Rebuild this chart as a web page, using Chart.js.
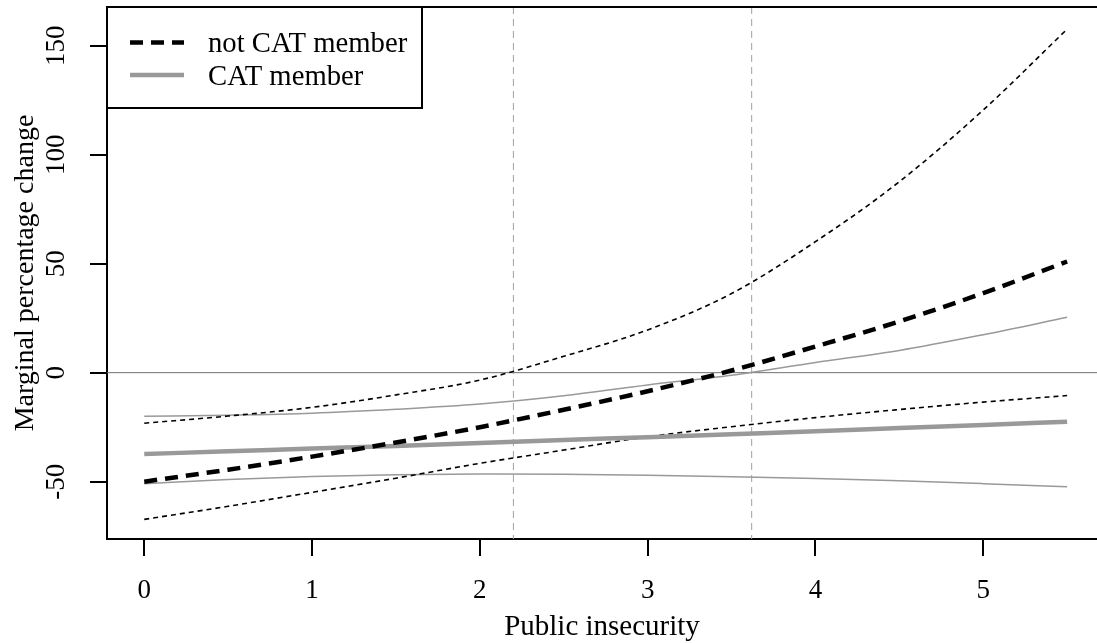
<!DOCTYPE html>
<html>
<head>
<meta charset="utf-8">
<script src="https://cdn.jsdelivr.net/npm/chart.js@4.4.1/dist/chart.umd.min.js"></script>
<style>
html, body { margin: 0; padding: 0; background: #fff; overflow: hidden; }
canvas { display: block; }
</style>
</head>
<body>
<canvas id="marginalChart" width="1097" height="643"></canvas>
<script>
var insecurity = [0, 0.5, 1, 1.5, 2, 2.5, 3, 3.5, 4, 4.5, 5, 5.5];
var notCatEst   = [-50, -44.5, -38.5, -32, -25, -17, -8.5, 1, 12, 23.5, 36.5, 51];
var notCatUpper = [-23.2, -19.9, -15.9, -10.2, -3.4, 7.5, 19.6, 36.3, 60.1, 87.6, 120.5, 157.6];
var notCatLower = [-67.3, -61.3, -54.9, -48.4, -41.6, -35.5, -29.4, -24.8, -20.6, -16.9, -13.5, -10.5];
var catEst   = [-37.3, -36.1, -34.8, -33.6, -32.3, -30.9, -29.6, -28.2, -26.9, -25.4, -24, -22.5];
var catUpper = [-20, -19.5, -18.6, -16.8, -14.4, -10.6, -5.6, -1.2, 4.7, 10.2, 17.4, 25.4];
var catLower = [-50.9, -49, -47.6, -46.8, -46.5, -46.6, -47, -47.7, -48.5, -49.6, -50.9, -52.3];
var xTicks = [0, 1, 2, 3, 4, 5];
var yTicks = [-50, 0, 50, 100, 150];
var cutoffs = [2.2, 3.62];
var legendLabels = ['not CAT member', 'CAT member'];

var FONT = '"Liberation Serif", "Times New Roman", serif';
var GRAY = '#999999';

function pts(ys) {
    return insecurity.map(function(x, i) { return {x: x, y: ys[i]}; });
}

function line(data, color, width, dash) {
    return {
        data: pts(data),
        borderColor: color,
        borderWidth: width,
        borderDash: dash || [],
        pointRadius: 0,
        fill: false,
        cubicInterpolationMode: 'monotone'
    };
}

var rPlot = {
    id: 'rPlot',
    beforeDatasetsDraw: function(chart) {
        var ctx = chart.ctx, a = chart.chartArea;
        var xs = chart.scales.x, ys = chart.scales.y;
        ctx.save();
        // zero line
        var y0 = ys.getPixelForValue(0);
        ctx.strokeStyle = '#707070';
        ctx.lineWidth = 1;
        ctx.beginPath();
        ctx.moveTo(a.left, y0);
        ctx.lineTo(a.right, y0);
        ctx.stroke();
        // cutoff lines
        ctx.strokeStyle = '#a0a0a0';
        ctx.setLineDash([7, 5]);
        cutoffs.forEach(function(c) {
            var px = xs.getPixelForValue(c);
            ctx.beginPath();
            ctx.moveTo(px, a.top);
            ctx.lineTo(px, a.bottom);
            ctx.stroke();
        });
        ctx.restore();
    },
    afterDraw: function(chart) {
        var ctx = chart.ctx, a = chart.chartArea;
        var ys = chart.scales.y;
        ctx.save();
        // top of box
        ctx.strokeStyle = '#000';
        ctx.lineWidth = 2;
        ctx.beginPath();
        ctx.moveTo(a.left - 1, a.top);
        ctx.lineTo(a.right, a.top);
        ctx.stroke();

        // y tick labels, parallel to the axis
        ctx.fillStyle = '#000';
        ctx.font = '27px ' + FONT;
        ctx.textAlign = 'center';
        ctx.textBaseline = 'alphabetic';
        yTicks.forEach(function(v) {
            ctx.save();
            ctx.translate(64, ys.getPixelForValue(v));
            ctx.rotate(-Math.PI / 2);
            ctx.fillText(String(v), 0, 0);
            ctx.restore();
        });

        // legend
        var lx = a.left, ly = a.top, lw = 315, lh = 101;
        ctx.fillStyle = '#fff';
        ctx.fillRect(lx, ly, lw, lh);
        ctx.strokeRect(lx, ly, lw, lh);
        ctx.font = '28.7px ' + FONT;
        var sets = [chart.data.datasets[0], chart.data.datasets[1]];
        var rows = [42.5, 75];
        sets.forEach(function(ds, i) {
            ctx.strokeStyle = ds.borderColor;
            ctx.lineWidth = ds.borderWidth;
            ctx.setLineDash(ds.borderDash);
            ctx.beginPath();
            ctx.moveTo(130, rows[i]);
            ctx.lineTo(184, rows[i]);
            ctx.stroke();
            ctx.setLineDash([]);
            ctx.fillStyle = '#000';
            ctx.textAlign = 'left';
            ctx.fillText(legendLabels[i], 208, rows[i] + 9.5);
        });
        ctx.restore();
    }
};

var ctx = document.getElementById('marginalChart');
var chart = new Chart(ctx, {
    type: 'line',
    data: {
        datasets: [
            line(notCatEst, '#000000', 4.5, [13, 8]),
            line(catEst, GRAY, 4.5),
            line(notCatUpper, '#000000', 1.6, [5, 4]),
            line(notCatLower, '#000000', 1.6, [5, 4]),
            line(catUpper, GRAY, 1.5),
            line(catLower, GRAY, 1.5)
        ]
    },
    options: {
        responsive: false,
        devicePixelRatio: 1,
        animation: false,
        layout: { padding: { top: 7, left: 0, right: 0, bottom: 0 } },
        plugins: { legend: { display: false }, tooltip: { enabled: false } },
        scales: {
            x: {
                type: 'linear',
                min: -0.222,
                max: 5.678,
                afterFit: function(s) { s.height = 104; },
                afterBuildTicks: function(s) { s.ticks = xTicks.map(function(v) { return {value: v}; }); },
                ticks: { color: '#000', padding: 19, maxRotation: 0, font: { family: FONT, size: 27 } },
                grid: { drawOnChartArea: false, drawTicks: true, tickLength: 17, color: '#000', lineWidth: 2 },
                border: { display: true, color: '#000', width: 2 },
                title: { display: true, text: 'Public insecurity', color: '#000', padding: { top: 0, bottom: -2 }, font: { family: FONT, size: 29 } }
            },
            y: {
                type: 'linear',
                min: -76.3,
                max: 167.75,
                afterFit: function(s) { s.width = 107; },
                afterBuildTicks: function(s) { s.ticks = yTicks.map(function(v) { return {value: v}; }); },
                ticks: { display: false },
                grid: { drawOnChartArea: false, drawTicks: true, tickLength: 17, color: '#000', lineWidth: 2 },
                border: { display: true, color: '#000', width: 2 },
                title: { display: true, text: 'Marginal percentage change', color: '#000', padding: { top: 9, bottom: 0 }, font: { family: FONT, size: 28 } }
            }
        }
    },
    plugins: [rPlot]
});
</script>
</body>
</html>
